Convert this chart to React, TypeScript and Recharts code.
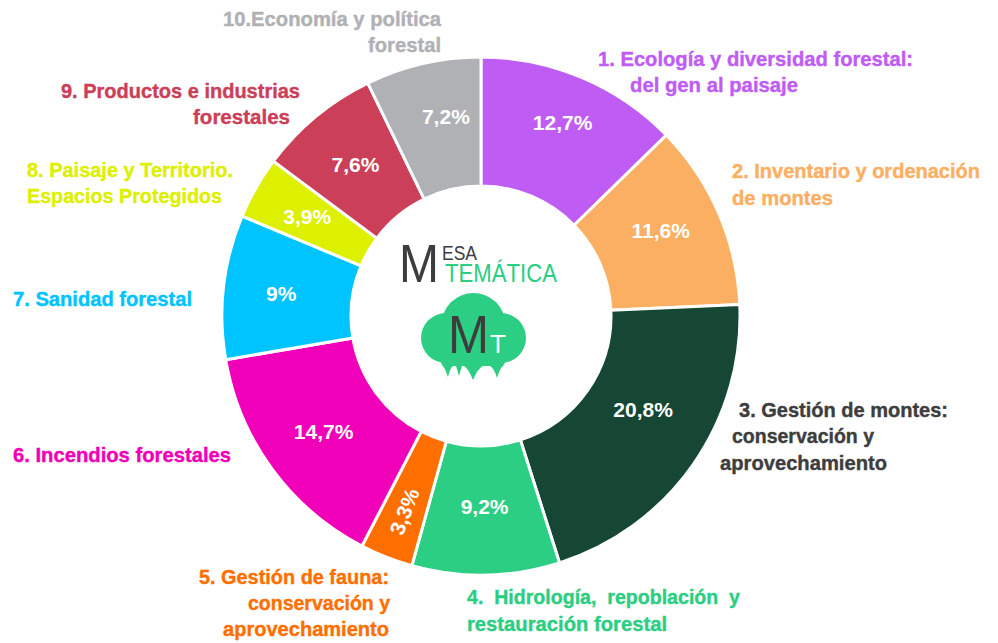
import React from 'react';
import { PieChart, Pie, Cell } from 'recharts';

const values = [12.7, 11.6, 20.8, 9.2, 3.3, 14.7, 9, 3.9, 7.6, 7.2];
const valueLabels = ['12,7%', '11,6%', '20,8%', '9,2%', '3,3%', '14,7%', '9%', '3,9%', '7,6%', '7,2%'];
const names = [
  ['1. Ecología y diversidad forestal:', 'del gen al paisaje'],
  ['2. Inventario y ordenación', 'de montes'],
  ['3. Gestión de montes:', 'conservación y', 'aprovechamiento'],
  ['4.  Hidrología,  repoblación  y', 'restauración forestal'],
  ['5. Gestión de fauna:', 'conservación y', 'aprovechamiento'],
  ['6. Incendios forestales'],
  ['7. Sanidad forestal'],
  ['8. Paisaje y Territorio.', 'Espacios Protegidos'],
  ['9. Productos e industrias', 'forestales'],
  ['10.Economía y política', 'forestal'],
];
const colors = ['#BF5CF3', '#FBAF62', '#154734', '#2BCE82', '#FF6F00', '#F000B8', '#00C4FF', '#DDF000', '#CB3F58', '#B0B1B5'];
const nameColors = ['#BF5CF3', '#FBAF62', '#3D3D3D', '#2BCE82', '#FF6F00', '#F000B8', '#00C4FF', '#DDF000', '#CB3F58', '#B0B1B5'];

// label placement, by hand from the picture: [x, baseline, anchor, width] per line
const nameSpots: [number, number, string, number][][] = [
  [[598, 66, 'start', 315], [630, 92, 'start', 168]],
  [[732, 178, 'start', 248], [732, 205, 'start', 101]],
  [[739, 417, 'start', 209], [732, 443, 'start', 142], [720, 470, 'start', 167]],
  [[467, 604, 'start', 273], [467, 631, 'start', 200]],
  [[389, 584, 'end', 190], [390, 610, 'end', 142], [389, 636, 'end', 166]],
  [[13, 462, 'start', 218]],
  [[13, 306, 'start', 179]],
  [[27, 177, 'start', 206], [27, 203, 'start', 195]],
  [[300, 98, 'end', 239], [290, 124, 'end', 97]],
  [[441, 26, 'end', 218], [441, 52, 'end', 73]],
];
const valueRadius = [210, 199, 187, 191, 210, 195, 201, 200, 197, 203];
const valueAngleNudge = [0, 2, 5, 0, 0, 0, 0, 0, 0, -3];

const data = values.map((value, i) => ({ name: names[i].join(' '), value }));
const RADIAN = Math.PI / 180;
const LABEL_FONT = '"Liberation Sans", Arial, sans-serif';

function renderLabel(props: any) {
  const { cx, cy, midAngle, index } = props;
  const angle = (midAngle + valueAngleNudge[index]) * RADIAN;
  const x = cx + valueRadius[index] * Math.cos(angle);
  const y = cy - valueRadius[index] * Math.sin(angle);
  return (
    <g>
      <text
        x={x}
        y={y}
        fill="#fff"
        fontFamily={LABEL_FONT}
        fontWeight={700}
        fontSize={21}
        textAnchor="middle"
        dominantBaseline="central"
        transform={index === 4 ? `rotate(-69 ${x} ${y})` : undefined}
      >
        {valueLabels[index]}
      </text>
      {names[index].map((line, j) => {
        const [tx, ty, anchor, width] = nameSpots[index][j];
        return (
          <text
            key={j}
            x={tx}
            y={ty}
            fill={nameColors[index]}
            stroke={nameColors[index]}
            strokeWidth={0.4}
            fontFamily={LABEL_FONT}
            fontWeight={700}
            fontSize={21}
            textAnchor={anchor as any}
            textLength={width}
            lengthAdjust="spacingAndGlyphs"
            style={{ whiteSpace: 'pre' }}
          >
            {line}
          </text>
        );
      })}
    </g>
  );
}

function Logo() {
  return (
    <svg width={998} height={643} style={{ position: 'absolute', left: 0, top: 0 }}>
      <g fontFamily='"Liberation Sans", Arial, sans-serif'>
        <text x={399} y={282} fontSize={53} fill="#3D3D3D" textLength={40} lengthAdjust="spacingAndGlyphs">M</text>
        <text x={442} y={260} fontSize={20} fill="#3D3D3D" textLength={35} lengthAdjust="spacingAndGlyphs">ESA</text>
        <text x={445} y={282} fontSize={25} fill="#2BCE82" textLength={112} lengthAdjust="spacingAndGlyphs">TEMÁTICA</text>
      </g>
      <g fill="#2BCE82">
        <circle cx={446} cy={338} r={25} />
        <circle cx={501} cy={338} r={25} />
        <circle cx={473.5} cy={325} r={32} />
        <rect x={446} y={325} width={55} height={41} />
        <path d="M440 359 H507 L503 366 Q500 368 497 378 Q494 368 490 366 H483 Q478 368 473 380 Q468 368 464 366 H462 L459 376 L456 366 H453 Q450 368 448 377 Q445 368 442 365 Z" />
      </g>
      <g fontFamily='"Liberation Sans", Arial, sans-serif'>
        <text x={448} y={353} fontSize={53} fill="#3D3D3D" textLength={41} lengthAdjust="spacingAndGlyphs">M</text>
        <text x={490} y={353} fontSize={26} fill="#fff">T</text>
      </g>
    </svg>
  );
}

export default function App() {
  return (
    <div style={{ position: 'absolute', left: 0, top: 0, width: 998, height: 643, background: '#fff' }}>
      <PieChart width={998} height={643} margin={{ top: 0, right: 0, bottom: 0, left: 0 }}>
        <Pie
          data={data}
          dataKey="value"
          cx={481}
          cy={316}
          innerRadius={130}
          outerRadius={259}
          startAngle={90}
          endAngle={-270}
          stroke="#fff"
          strokeWidth={3}
          label={renderLabel}
          labelLine={false}
          isAnimationActive={false}
        >
          {data.map((d, i) => (
            <Cell key={d.name} fill={colors[i]} />
          ))}
        </Pie>
      </PieChart>
      <Logo />
    </div>
  );
}
